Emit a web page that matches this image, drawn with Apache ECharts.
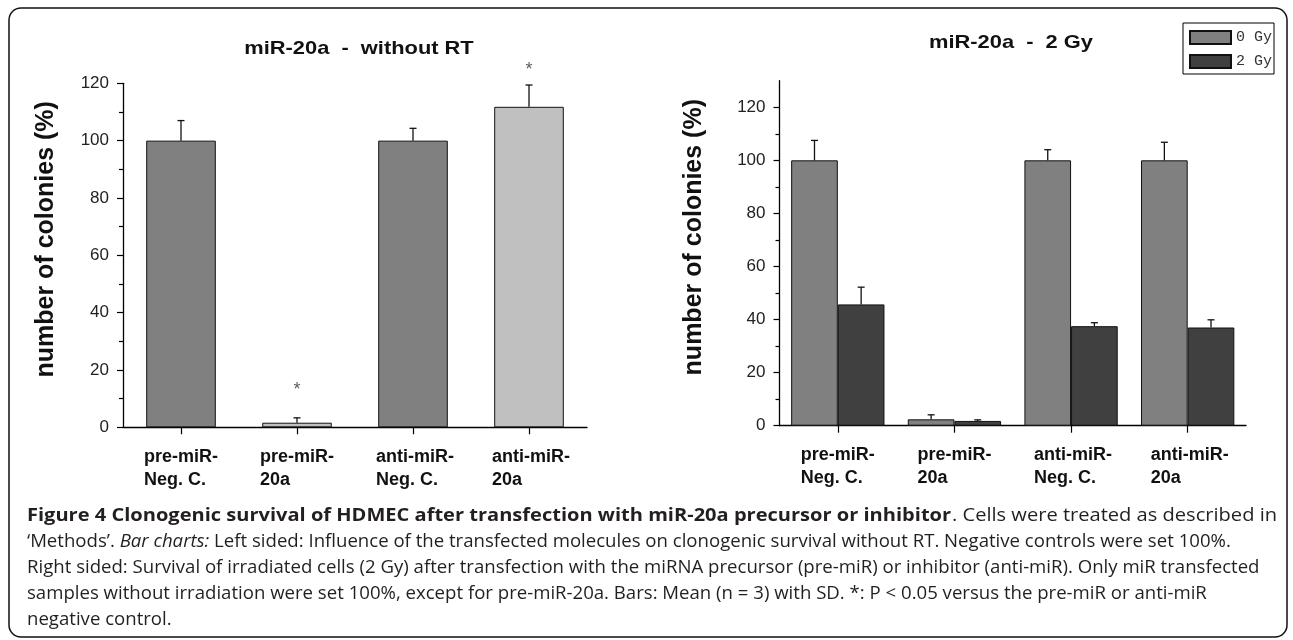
<!DOCTYPE html>
<html>
<head>
<meta charset="utf-8">
<script src="https://cdn.jsdelivr.net/npm/echarts@6/dist/echarts.min.js"></script>
<style>
html,body{margin:0;padding:0;background:#fff;}
#chart{width:1293px;height:640px;}
</style>
</head>
<body>
<div id="chart"></div>
<script>
// ---- data ----
const categories = ['pre-miR-\nNeg. C.', 'pre-miR-\n20a', 'anti-miR-\nNeg. C.', 'anti-miR-\n20a'];
const leftValues = [100, 1.6, 100, 111.8];
const leftSD = [7.0, 1.7, 4.3, 7.6];
const leftSig = [null, 13.0, null, 124.5];
const values0Gy = [100, 2.4, 100, 100];
const sd0Gy = [7.5, 1.7, 4.0, 6.8];
const values2Gy = [45.7, 1.8, 37.5, 37.0];
const sd2Gy = [6.5, 0.4, 1.3, 2.9];
const majorTicks = [0, 20, 40, 60, 80, 100, 120];
const minorTicks = [10, 30, 50, 70, 90, 110];
const leftTitle = 'miR-20a  -  without RT';
const rightTitle = 'miR-20a  -  2 Gy';
const yName = 'number of colonies (%)';
const seriesNames = ['0 Gy', '2 Gy'];
const captionBold = 'Figure 4 Clonogenic survival of HDMEC after transfection with miR-20a precursor or inhibitor';
const captionLines = [
  '. Cells were treated as described in',
  '\u2018Methods\u2019. {i|Bar charts:} Left sided: Influence of the transfected molecules on clonogenic survival without RT. Negative controls were set 100%.',
  'Right sided: Survival of irradiated cells (2 Gy) after transfection with the miRNA precursor (pre-miR) or inhibitor (anti-miR). Only miR transfected',
  'samples without irradiation were set 100%, except for pre-miR-20a. Bars: Mean (n = 3) with SD. *: P < 0.05 versus the pre-miR or anti-miR',
  'negative control.'
];

// ---- chart ----
const chart = echarts.init(document.getElementById('chart'), null, {renderer: 'canvas'});
const AX = 'Liberation Sans';
const axisLineStyle = {color: '#000', width: 1.3};

function catLabel(v) {
  return v.split('\n').map(s => '{a|' + s + '}').join('\n');
}

function yAxes(gridIndex, max, nameGap) {
  return [
    {
      type: 'value', gridIndex: gridIndex, position: 'left', min: 0, max: max, interval: 20,
      axisLine: {show: true, lineStyle: axisLineStyle},
      axisTick: {show: true, length: 6, lineStyle: {color: '#000', width: 1.2}, customValues: majorTicks},
      axisLabel: {show: true, margin: 14, fontFamily: AX, fontSize: 17, color: '#222', customValues: majorTicks},
      splitLine: {show: false},
      name: yName, nameLocation: 'middle', nameGap: nameGap,
      nameTextStyle: {fontFamily: AX, fontSize: 25, fontWeight: 'bold', color: '#111', padding: [0, 0, 0, 32]}
    },
    {
      type: 'value', gridIndex: gridIndex, position: 'left', offset: 0, min: 0, max: max, interval: 10,
      axisLine: {show: false},
      axisTick: {show: true, length: 4, lineStyle: {color: '#000', width: 1.2}, customValues: minorTicks},
      axisLabel: {show: false},
      splitLine: {show: false}
    }
  ];
}

function xAxis(gridIndex) {
  return {
    type: 'category', gridIndex: gridIndex, data: categories,
    axisLine: {show: true, lineStyle: axisLineStyle},
    axisTick: {show: true, alignWithLabel: true, length: 7, lineStyle: {color: '#000', width: 1.2}},
    axisLabel: {
      margin: 18, formatter: catLabel, color: '#111',
      rich: {a: {width: 74, align: 'left', fontFamily: AX, fontSize: 18, fontWeight: 'bold', lineHeight: 23, color: '#111'}}
    }
  };
}

function errorSeries(name, xi, yi, vals, sds, offsetFrac) {
  return {
    type: 'custom', name: name + ' SD', xAxisIndex: xi, yAxisIndex: yi, z: 5,
    silent: true, legendHoverLink: false,
    data: vals.map((v, i) => [i, v, sds[i]]),
    encode: {x: 0, y: 1},
    renderItem: function (params, api) {
      const i = api.value(0), v = api.value(1), sd = api.value(2);
      const band = api.size([1, 0])[0];
      const dx = band * offsetFrac;
      const p0 = api.coord([i, v]);
      const p1 = api.coord([i, v + sd]);
      const x = p0[0] + dx;
      return {
        type: 'group',
        children: [
          {type: 'line', shape: {x1: x, y1: p0[1], x2: x, y2: p1[1]}, style: {stroke: '#111', lineWidth: 1.3}},
          {type: 'line', shape: {x1: x - 3.5, y1: p1[1], x2: x + 3.5, y2: p1[1]}, style: {stroke: '#111', lineWidth: 1.3}}
        ]
      };
    }
  };
}

const graphics = [
  {type: 'rect', shape: {x: 9, y: 8, width: 1278, height: 629, r: 12}, style: {fill: 'none', stroke: '#111', lineWidth: 1.5}, z: 0},
  {type: 'text', x: 359, y: 49, scaleX: 1.15, style: {text: leftTitle, fontFamily: AX, fontSize: 19, fontWeight: 'bold', fill: '#111', align: 'center', verticalAlign: 'middle'}},
  {type: 'text', x: 1011, y: 43, scaleX: 1.15, style: {text: rightTitle, fontFamily: AX, fontSize: 19, fontWeight: 'bold', fill: '#111', align: 'center', verticalAlign: 'middle'}}
];
const capY = [516, 542, 568, 594, 620];
const capFont = 18.6;
graphics.push({
  type: 'text', x: 27, y: capY[0], scaleX: 1.078,
  style: {text: captionBold, fontFamily: 'Open Sans', fontSize: capFont, fontWeight: 'bold', fill: '#231f20', align: 'left', verticalAlign: 'middle'}
});
captionLines.forEach((t, k) => {
  graphics.push({
    type: 'text', x: k === 0 ? 952 : 27, y: capY[k], scaleX: k === 0 ? 1.08 : 1,
    style: {
      text: t, fontFamily: 'Open Sans', fontSize: capFont, fill: '#231f20', align: 'left', verticalAlign: 'middle',
      rich: {
        i: {fontFamily: 'Open Sans', fontSize: capFont, fontStyle: 'italic', fill: '#231f20', color: '#231f20'}
      }
    }
  });
});

const option = {
  animation: false,
  backgroundColor: '#fff',
  grid: [
    {left: 123, top: 83.3, width: 464, height: 344, containLabel: false},
    {left: 779.5, top: 80.7, width: 466.5, height: 345, containLabel: false}
  ],
  xAxis: [xAxis(0), xAxis(1)],
  yAxis: yAxes(0, 120, 64).concat(yAxes(1, 130, 73)),
  legend: {
    data: seriesNames, orient: 'vertical', left: 1183, top: 23,
    padding: [7, 2, 5, 6], itemGap: 9, itemWidth: 41, itemHeight: 13, icon: 'rect',
    borderColor: '#000', borderWidth: 1, backgroundColor: '#fff',
    textStyle: {fontFamily: 'Liberation Mono', fontSize: 15, color: '#333'},
    selectedMode: false
  },
  graphic: graphics,
  series: [
    {
      type: 'bar', name: 'without RT', xAxisIndex: 0, yAxisIndex: 0, data: leftValues, barWidth: '60%',
      itemStyle: {color: p => (p.dataIndex % 2 === 0 ? '#808080' : '#c0c0c0'), borderColor: '#111', borderWidth: 1}
    },
    errorSeries('without RT', 0, 0, leftValues, leftSD, 0),
    {
      type: 'scatter', name: 'significance', xAxisIndex: 0, yAxisIndex: 0, data: leftSig, symbolSize: 0, clip: false, z: 6,
      label: {show: true, position: 'inside', formatter: '*', fontFamily: AX, fontSize: 18, color: '#333'}
    },
    {
      type: 'bar', name: seriesNames[0], xAxisIndex: 1, yAxisIndex: 2, data: values0Gy, barWidth: '40%', barGap: '0%',
      itemStyle: {color: '#808080', borderColor: '#111', borderWidth: 1}
    },
    {
      type: 'bar', name: seriesNames[1], xAxisIndex: 1, yAxisIndex: 2, data: values2Gy, barWidth: '40%', barGap: '0%',
      itemStyle: {color: '#404040', borderColor: '#111', borderWidth: 1}
    },
    errorSeries(seriesNames[0], 1, 2, values0Gy, sd0Gy, -0.2),
    errorSeries(seriesNames[1], 1, 2, values2Gy, sd2Gy, 0.2)
  ]
};
chart.setOption(option);
</script>
</body>
</html>
